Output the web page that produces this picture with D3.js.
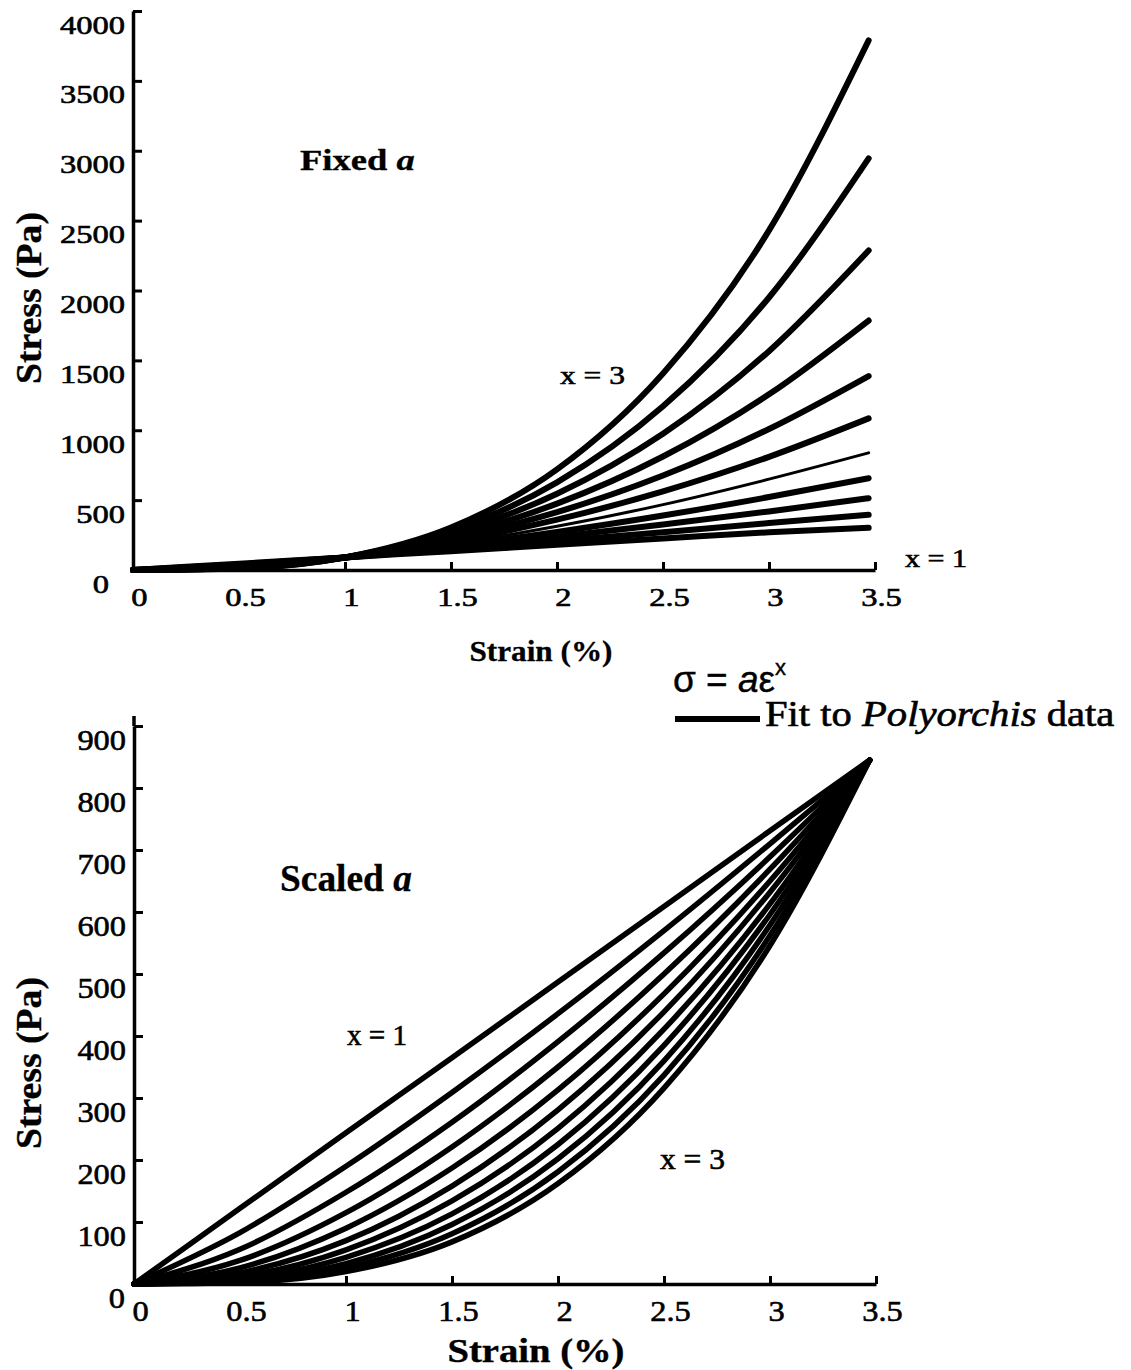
<!DOCTYPE html>
<html><head><meta charset="utf-8">
<script src="https://cdn.jsdelivr.net/npm/d3@7"></script>
<style>body{margin:0;background:#fff} svg{display:block}</style>
</head><body>
<script>
// ---------- data ----------
const strain = [0, 0.5, 1, 1.5, 2, 2.5, 3, 3.47];
const exponents = [1, 1.2, 1.4, 1.6, 1.8, 2, 2.2, 2.4, 2.6, 2.8, 3];
const fitExponent = 1.8; // thin "Fit to Polyorchis data" curve
// top panel: Fixed a (stress, Pa) per exponent
const fixedA_x10 = [0, 45, 90, 135, 180, 225, 270, 302];
const fixedA_x12 = [0, 39, 90, 146, 207, 270, 336, 395];
const fixedA_x14 = [0, 34, 90, 159, 238, 325, 419, 514];
const fixedA_x16 = [0, 30, 90, 172, 273, 390, 522, 657];
const fixedA_x18 = [0, 26, 90, 187, 313, 468, 650, 838];
const fixedA_x20 = [0, 22, 90, 203, 360, 563, 810, 1085];
const fixedA_x22 = [0, 20, 90, 220, 414, 676, 1009, 1388];
const fixedA_x24 = [0, 17, 90, 238, 475, 812, 1257, 1785];
const fixedA_x26 = [0, 15, 90, 258, 546, 975, 1566, 2286];
const fixedA_x28 = [0, 13, 90, 280, 627, 1171, 1950, 2945];
const fixedA_x30 = [0, 11, 90, 304, 720, 1406, 2430, 3790];
// bottom panel: Scaled a
const scaledA_x10 = [0, 122, 244, 365, 487, 609, 731, 845];
const scaledA_x12 = [0, 83, 190, 309, 436, 570, 710, 845];
const scaledA_x14 = [0, 56, 148, 261, 391, 534, 689, 845];
const scaledA_x16 = [0, 38, 115, 221, 350, 500, 669, 845];
const scaledA_x18 = [0, 26, 90, 187, 313, 468, 650, 845];
const scaledA_x20 = [0, 18, 70, 158, 281, 439, 632, 845];
const scaledA_x22 = [0, 12, 55, 134, 251, 411, 613, 845];
const scaledA_x24 = [0, 8, 43, 113, 225, 385, 596, 845];
const scaledA_x26 = [0, 5.5, 33, 96, 202, 360, 579, 845];
const scaledA_x28 = [0, 3.7, 26, 81, 181, 337, 562, 845];
const scaledA_x30 = [0, 2.5, 20, 68, 162, 316, 546, 845];

const xTicks = [0, 0.5, 1, 1.5, 2, 2.5, 3, 3.5];
const yTicksTop = [0, 500, 1000, 1500, 2000, 2500, 3000, 3500, 4000];
const yTicksBottom = [0, 100, 200, 300, 400, 500, 600, 700, 800, 900];

const fixedA = [fixedA_x10, fixedA_x12, fixedA_x14, fixedA_x16, fixedA_x18, fixedA_x20,
                fixedA_x22, fixedA_x24, fixedA_x26, fixedA_x28, fixedA_x30];
const scaledA = [scaledA_x10, scaledA_x12, scaledA_x14, scaledA_x16, scaledA_x18, scaledA_x20,
                 scaledA_x22, scaledA_x24, scaledA_x26, scaledA_x28, scaledA_x30];

// ---------- drawing ----------
const W = 1131, H = 1370;
const SERIF = "'Liberation Serif','Times New Roman',Times,serif";
const SANS = "'Liberation Sans',Arial,Helvetica,sans-serif";
const INK = 0.6; // slight stroke to mimic the heavy printed type
const svg = d3.select("body").append("svg").attr("width", W).attr("height", H);

// stretch a text element horizontally (about its anchor) to a target width
function fitWidth(sel, width) {
  const n = sel.node();
  const bb = n.getBBox();
  const anchor = sel.attr("text-anchor") || "start";
  const ax = anchor === "middle" ? bb.x + bb.width / 2 : anchor === "end" ? bb.x + bb.width : bb.x;
  const s = width / bb.width;
  sel.attr("transform", `translate(${ax},0) scale(${s},1) translate(${-ax},0)`);
}

function addText(parent, o) {
  const t = parent.append("text")
    .attr("x", o.x).attr("y", o.y)
    .attr("font-family", o.family || SERIF)
    .attr("font-size", o.size)
    .attr("font-weight", o.weight || "normal")
    .attr("text-anchor", o.anchor || "start")
    .attr("fill", "#000")
    .attr("stroke", "#000").attr("stroke-width", o.ink != null ? o.ink : INK);
  o.parts.forEach(p => {
    const ts = t.append("tspan").text(p.t);
    if (p.italic) ts.attr("font-style", "italic");
    if (p.sup) ts.attr("font-size", p.sup).attr("dy", p.dy);
  });
  if (o.width) fitWidth(t, o.width);
  return t;
}

function panel(cfg) {
  const x = d3.scaleLinear().domain([0, 3.5]).range([cfg.x0, cfg.x1]);
  const y = d3.scaleLinear().domain([0, cfg.yMax]).range([cfg.y0, cfg.yTop]);
  const g = svg.append("g");

  const line = d3.line()
    .x((d, i) => x(strain[i]))
    .y(d => y(d))
    .curve(d3.curveMonotoneX);

  cfg.data.forEach((vals, k) => {
    const thin = cfg.thinFit && exponents[k] === fitExponent;
    g.append("path")
      .attr("d", line(vals))
      .attr("fill", "none")
      .attr("stroke", "#000")
      .attr("stroke-width", thin ? 3 : cfg.lw)
      .attr("stroke-linecap", "round")
      .attr("stroke-linejoin", "round");
  });

  // x axis
  const gx = g.append("g").attr("transform", `translate(0,${cfg.y0})`)
    .call(d3.axisBottom(x).tickValues(xTicks).tickSizeInner(-8).tickSizeOuter(0)
      .tickFormat(d3.format("~g")));
  // y axis
  const gy = g.append("g").attr("transform", `translate(${cfg.x0},0)`)
    .call(d3.axisLeft(y).tickValues(cfg.yTicks).tickSizeInner(-9).tickSizeOuter(0)
      .tickFormat(d3.format("d")));

  [gx, gy].forEach(a => {
    a.select(".domain").attr("stroke", "#000").attr("stroke-width", 3.5);
    a.selectAll(".tick line").attr("stroke", "#000").attr("stroke-width", 3);
    a.attr("font-family", SERIF).attr("font-size", cfg.tickSize);
    a.selectAll(".tick text").attr("fill", "#000").attr("stroke", "#000")
      .attr("stroke-width", INK).attr("dy", null).attr("y", 0).attr("x", 0);
  });
  gx.selectAll(".tick text")
    .attr("text-anchor", "middle")
    .attr("transform", `translate(6,${cfg.xLabY}) scale(${cfg.tickSx},1)`);
  gy.selectAll(".tick text")
    .attr("text-anchor", "end")
    .attr("transform", d => `translate(${d === 0 ? cfg.zeroDx : -8},${cfg.yLabY}) scale(${cfg.tickSx},1)`);

  return { g, x, y };
}

// top panel
const topPanel = panel({
  x0: 133, x1: 875, y0: 570, yTop: 11, yMax: 4000, yTicks: yTicksTop,
  data: fixedA, lw: 6, thinFit: true,
  tickSize: 25, tickSx: 1.3, xLabY: 36, yLabY: 22, zeroDx: -24
});
// bottom panel
const botPanel = panel({
  x0: 134, x1: 876, y0: 1284, yTop: 726, yMax: 900, yTicks: yTicksBottom,
  data: scaledA, lw: 5.5, thinFit: false,
  tickSize: 30, tickSx: 1.08, xLabY: 37, yLabY: 23, zeroDx: -9
});
// extend bottom y axis a little above 900
botPanel.g.append("line").attr("x1", botPanel.x(0)).attr("x2", botPanel.x(0))
  .attr("y1", botPanel.y(900)).attr("y2", botPanel.y(900) - 10)
  .attr("stroke", "#000").attr("stroke-width", 3.5);

// ---------- annotations ----------
// top
addText(svg, { x: 300, y: 170, size: 29, weight: "bold", width: 115, ink: 0.3,
  parts: [{ t: "Fixed " }, { t: "a", italic: true }] });
addText(svg, { x: 560, y: 384, size: 25, width: 65, parts: [{ t: "x = 3" }] });
addText(svg, { x: 905, y: 567, size: 25, width: 62, parts: [{ t: "x = 1" }] });
addText(svg, { x: 541, y: 661, size: 30, weight: "bold", anchor: "middle", width: 143, ink: 0.3,
  parts: [{ t: "Strain (%)" }] });
{
  const r = svg.append("g").attr("transform", "translate(41,298) rotate(-90)");
  addText(r, { x: 0, y: 0, size: 36, weight: "bold", anchor: "middle", width: 172, ink: 0.3,
    parts: [{ t: "Stress (Pa)" }] });
}
// equation + legend
addText(svg, { x: 673, y: 692, size: 37, family: SANS, ink: 0.4,
  parts: [{ t: "σ = " }, { t: "a", italic: true }, { t: "ε" }, { t: "x", sup: 22, dy: -17 }] });
svg.append("line").attr("x1", 675).attr("x2", 760).attr("y1", 719).attr("y2", 719)
  .attr("stroke", "#000").attr("stroke-width", 6);
addText(svg, { x: 765, y: 726, size: 35, width: 350,
  parts: [{ t: "Fit to " }, { t: "Polyorchis", italic: true }, { t: " data" }] });
// bottom
addText(svg, { x: 280, y: 891, size: 37, weight: "bold", width: 132, ink: 0.3,
  parts: [{ t: "Scaled " }, { t: "a", italic: true }] });
addText(svg, { x: 347, y: 1045, size: 30, width: 60, parts: [{ t: "x = 1" }] });
addText(svg, { x: 660, y: 1169, size: 30, width: 65, parts: [{ t: "x = 3" }] });
addText(svg, { x: 536, y: 1362, size: 34, weight: "bold", anchor: "middle", width: 177, ink: 0.4,
  parts: [{ t: "Strain (%)" }] });
{
  const r = svg.append("g").attr("transform", "translate(41,1063) rotate(-90)");
  addText(r, { x: 0, y: 0, size: 36, weight: "bold", anchor: "middle", width: 172, ink: 0.3,
    parts: [{ t: "Stress (Pa)" }] });
}
</script>
</body></html>
